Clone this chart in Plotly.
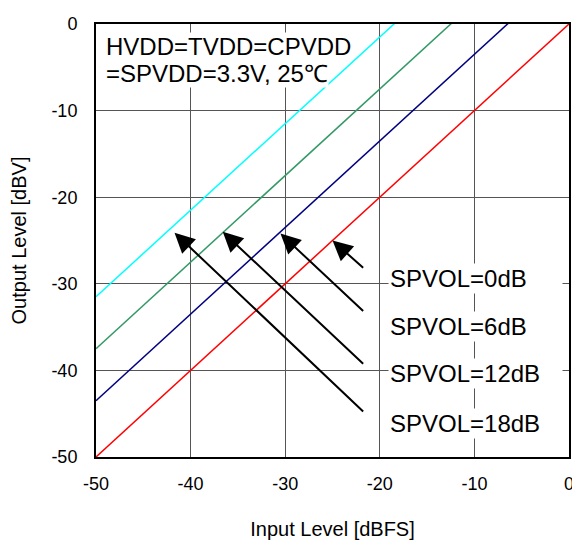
import plotly.graph_objects as go

# input level [dBFS]
x_in = [-50, -40, -30, -20, -10, 0]

# output level [dBV] per SPVOL setting
y_0db = [-50, -40, -30, -20, -10, 0]
y_6db = [-43.5, -33.5, -23.5, -13.5, -3.5, 6.5]
y_12db = [-37.5, -27.5, -17.5, -7.5, 2.5, 12.5]
y_18db = [-31.5, -21.5, -11.5, -1.5, 8.5, 18.5]

tick_vals = [-50, -40, -30, -20, -10, 0]
tick_text = ['-50', '-40', '-30', '-20', '-10', '0']

labels = ['SPVOL=0dB', 'SPVOL=6dB', 'SPVOL=12dB', 'SPVOL=18dB']
label_y = [-29.4, -34.9, -40.4, -46.1]

# arrow tips (on the curves) and tails (next to the labels)
tip_x = [-25.0, -30.5, -36.6, -41.7]
tip_y = [-25.0, -24.2, -24.0, -24.1]
tail_x = [-21.6, -21.6, -21.6, -21.6]
tail_y = [-28.3, -33.3, -39.4, -44.9]

note_lines = ['HVDD=TVDD=CPVDD', '=SPVDD=3.3V, 25℃']
note_y = [0.947, 0.886]

FONT = 'Arial, Liberation Sans, sans-serif'

traces = [
    go.Scatter(x=x_in, y=y_0db, mode='lines', line=dict(color='#ff0000', width=1.5)),
    go.Scatter(x=x_in, y=y_6db, mode='lines', line=dict(color='#000080', width=1.5)),
    go.Scatter(x=x_in, y=y_12db, mode='lines', line=dict(color='#339966', width=1.5)),
    go.Scatter(x=x_in, y=y_18db, mode='lines', line=dict(color='#00ffff', width=1.5)),
]

annotations = []
for tx, ty, ax, ay in zip(tip_x, tip_y, tail_x, tail_y):
    annotations.append(dict(
        x=tx, y=ty, ax=ax, ay=ay, xref='x', yref='y', axref='x', ayref='y',
        text='', showarrow=True, arrowhead=2, arrowsize=2, arrowwidth=2,
        arrowcolor='black',
    ))

for lab, ly in zip(labels, label_y):
    annotations.append(dict(
        x=-19.1, y=ly, xref='x', yref='y', xanchor='left', yanchor='middle',
        text=lab, showarrow=False, align='left', width=171, borderpad=1,
        bgcolor='white', font=dict(family=FONT, size=24, color='black'),
    ))

for line, ny in zip(note_lines, note_y):
    annotations.append(dict(
        x=0.02, y=ny, xref='paper', yref='paper', xanchor='left', yanchor='middle',
        text=line, showarrow=False, align='left',
        bgcolor='white', borderpad=0, font=dict(family=FONT, size=24, color='black'),
    ))

# page body has an 8px margin, so the figure is 8px smaller than the window
layout = go.Layout(
    width=572,
    height=538,
    margin=dict(l=88, r=6, t=12, b=89),
    showlegend=False,
    plot_bgcolor='white',
    paper_bgcolor='white',
    font=dict(family=FONT, color='black'),
    xaxis=dict(
        range=[-50, 0],
        tickvals=tick_vals,
        ticktext=tick_text,
        tickfont=dict(size=18),
        ticklabelstandoff=9,
        ticklabeloverflow='allow',
        showgrid=True, gridcolor='#555555', gridwidth=1,
        zeroline=False,
        showline=True, linecolor='black', linewidth=2, mirror=True,
        title=dict(text='Input Level [dBFS]', font=dict(size=20), standoff=29),
    ),
    yaxis=dict(
        range=[-50, 0],
        tickvals=tick_vals,
        ticktext=tick_text,
        tickfont=dict(size=18),
        ticklabelstandoff=13,
        showgrid=True, gridcolor='#555555', gridwidth=1,
        zeroline=False,
        showline=True, linecolor='black', linewidth=2, mirror=True,
        title=dict(text='Output Level [dBV]', font=dict(size=20), standoff=19),
    ),
    annotations=annotations,
)

fig = go.Figure(data=traces, layout=layout)
fig.write_html('out.html')
